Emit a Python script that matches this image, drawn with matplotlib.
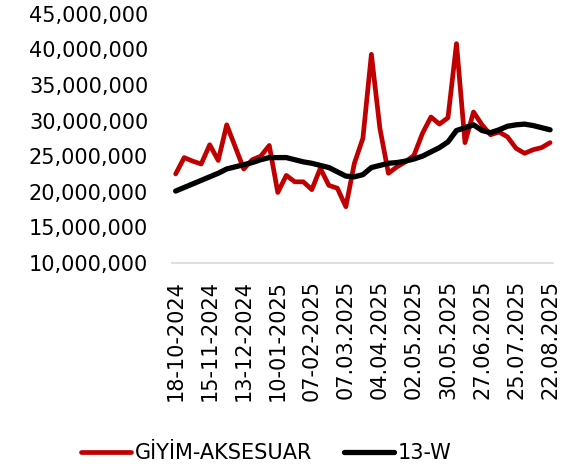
import matplotlib
matplotlib.use("Agg")
import matplotlib.pyplot as plt
from matplotlib.ticker import FuncFormatter
import numpy as np

tick_labels = ["18-10-2024", "15-11-2024", "13-12-2024", "10-01-2025", "07-02-2025",
               "07.03.2025", "04.04.2025", "02.05.2025", "30.05.2025", "27.06.2025",
               "25.07.2025", "22.08.2025"]

giyim = [22.5, 24.8, 24.3, 23.9, 26.6, 24.4, 29.4, 26.3, 23.2, 24.5, 25.0, 26.5,
         19.9, 22.3, 21.4, 21.4, 20.3, 23.3, 20.9, 20.5, 17.9, 24.0, 27.5, 39.3,
         28.9, 22.6, 23.5, 24.2, 25.1, 28.2, 30.5, 29.5, 30.4, 40.8, 26.9, 31.2,
         29.4, 28.0, 28.4, 27.7, 26.1, 25.4, 25.9, 26.2, 26.9]
w13 = [20.1, 20.6, 21.1, 21.6, 22.1, 22.6, 23.2, 23.5, 23.8, 24.1, 24.5, 24.8,
       24.8, 24.8, 24.5, 24.2, 24.0, 23.7, 23.4, 22.8, 22.2, 22.1, 22.4, 23.4,
       23.7, 24.0, 24.1, 24.3, 24.6, 25.0, 25.6, 26.2, 27.0, 28.6, 29.0, 29.4,
       28.6, 28.3, 28.7, 29.2, 29.4, 29.5, 29.3, 29.0, 28.7]

giyim_v = np.array(giyim) * 1e6
w13_v = np.array(w13) * 1e6
x = np.arange(len(giyim))

plt.rcParams['font.family'] = ['DejaVu Sans']

fig = plt.figure(figsize=(5.69, 4.73), dpi=100)
ax = fig.add_axes([0.302, 0.444, 0.67, 0.527])

l1, = ax.plot(x, giyim_v, color="#C00000", lw=3.4, solid_joinstyle='round',
              solid_capstyle='round', label="GİYİM-AKSESUAR")
l2, = ax.plot(x, w13_v, color="black", lw=3.8, solid_joinstyle='round',
              solid_capstyle='round', label="13-W")

ax.set_ylim(10e6, 45e6)
ax.set_yticks(np.arange(10e6, 45e6 + 1, 5e6))
ax.yaxis.set_major_formatter(FuncFormatter(lambda v, p: f"{int(round(v)):,}"))
ax.set_xlim(-0.45, 44.35)
ax.set_xticks(x[::4])
ax.set_xticklabels(tick_labels, rotation=90)

for s in ["top", "right", "left"]:
    ax.spines[s].set_visible(False)
ax.spines["bottom"].set_color("#d9d9d9")
ax.spines["bottom"].set_linewidth(1.2)
ax.tick_params(axis="y", length=0, pad=17, labelsize=15, colors="black")
ax.tick_params(axis="x", length=0, pad=12, labelsize=15, colors="black")

fig.legend(handles=[l1, l2], loc="center", bbox_to_anchor=(0.468, 0.042),
           ncol=2, frameon=False, fontsize=15, handlelength=2.4,
           handletextpad=0.2, columnspacing=1.5)

fig.savefig("out.png", dpi=100)
